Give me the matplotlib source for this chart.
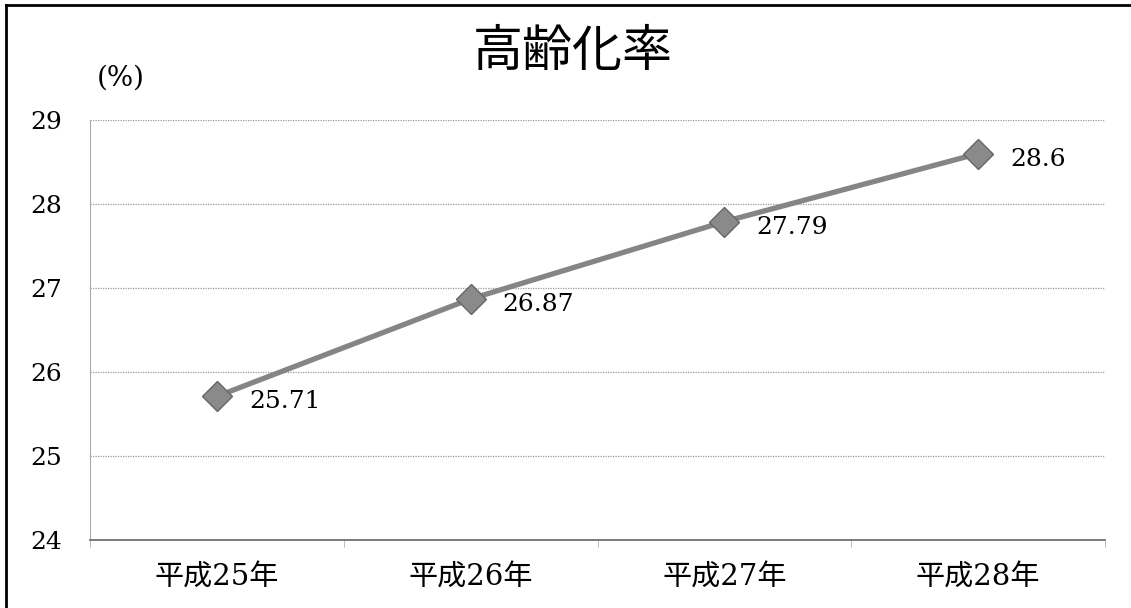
import matplotlib
matplotlib.use("Agg")
import matplotlib.pyplot as plt
from matplotlib.lines import Line2D

plt.rcParams['font.family'] = ['DejaVu Serif', 'Noto Sans CJK JP', 'DejaVu Sans']

years = ['平成25年', '平成26年', '平成27年', '平成28年']
rates = [25.71, 26.87, 27.79, 28.6]
rate_labels = ['25.71', '26.87', '27.79', '28.6']
y_ticks = [24, 25, 26, 27, 28, 29]

fig = plt.figure(figsize=(11.31, 6.08), dpi=100)
ax = fig.add_axes([90 / 1131, 1 - 540 / 608, 1015 / 1131, 420 / 608])

x = list(range(len(years)))
ax.plot(x, rates, color='#858585', linewidth=3.8, marker='D', markersize=15,
        markerfacecolor='#8a8a8a', markeredgecolor='#666666', markeredgewidth=1,
        zorder=3)

for xi, v, s in zip(x, rates, rate_labels):
    ax.annotate(s, (xi, v), xytext=(23, -4), textcoords='offset points',
                ha='left', va='center', fontsize=18, color='black',
                family=['DejaVu Serif'])

ax.set_xlim(-0.5, len(years) - 0.5)
ax.set_ylim(24, 29)
ax.set_yticks(y_ticks)
ax.set_yticklabels([str(t) for t in y_ticks], fontsize=18, family=['DejaVu Serif'])
ax.set_xticks(x)
ax.set_xticklabels(years, fontsize=21, family=['DejaVu Serif', 'Noto Sans CJK JP'])
ax.tick_params(axis='y', length=0, pad=20)
ax.tick_params(axis='x', length=0, pad=17)

# category boundary ticks along the bottom
ax.set_xticks([i - 0.5 for i in range(len(years) + 1)], minor=True)
ax.tick_params(axis='x', which='minor', length=5, color='#b0b0b0', direction='out')

ax.yaxis.grid(True, linestyle=(0, (1, 1)), color='#9a9a9a', linewidth=0.9)
for side in ('top', 'right'):
    ax.spines[side].set_visible(False)
ax.spines['left'].set_linestyle((0, (1, 1)))
ax.spines['left'].set_color('#aaaaaa')
ax.spines['bottom'].set_linestyle((0, (1, 1)))
ax.spines['bottom'].set_color('#666666')
ax.spines['bottom'].set_linewidth(1.2)

fig.text(573 / 1131, 1 - 52 / 608, '高齢化率', ha='center', va='center',
         fontsize=36, family=['Noto Sans CJK JP'])
fig.text(121 / 1131, 1 - 78 / 608, '(%)', ha='center', va='center',
         fontsize=20, family=['DejaVu Serif'])

# frame around the chart
fig.add_artist(Line2D([6 / 1131, 6 / 1131], [0, 1 - 5 / 608], transform=fig.transFigure,
                      color='black', linewidth=2))
fig.add_artist(Line2D([6 / 1131, 1], [1 - 5 / 608, 1 - 5 / 608], transform=fig.transFigure,
                      color='black', linewidth=2))

fig.savefig('out.png', dpi=100)
